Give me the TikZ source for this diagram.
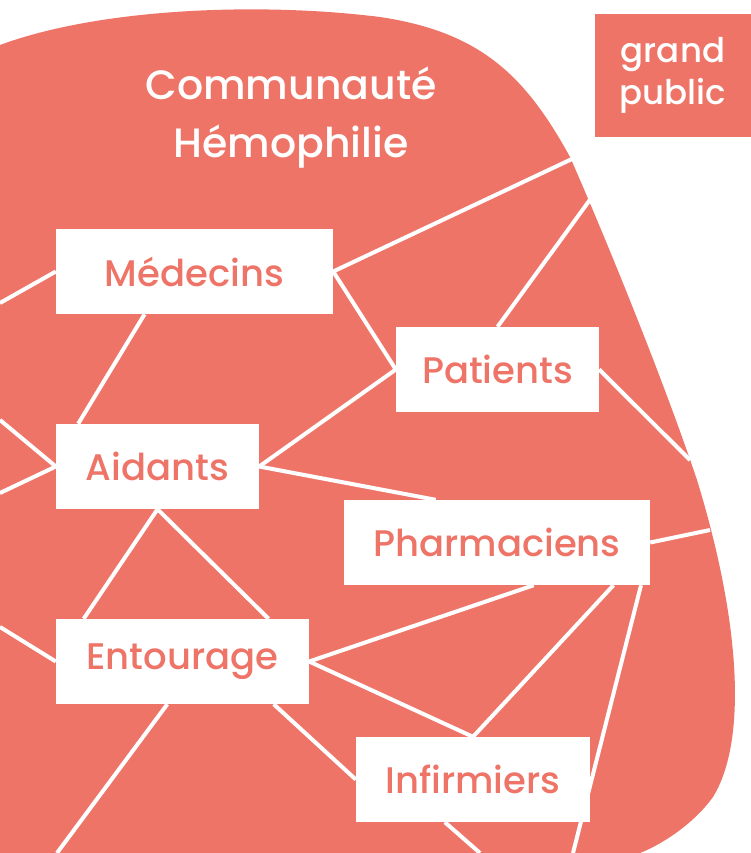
\documentclass[tikz,border=0pt]{standalone}
\usepackage{fontspec}
\setmainfont{Poppins}[UprightFont=* Medium]
\usetikzlibrary{calc}
\definecolor{corail}{RGB}{238,116,104}
\tikzstyle{every node}=[font=\fontsize{37}{40}\selectfont]
\tikzstyle{box}=[fill=white,text=corail,inner sep=0pt,minimum height=85pt]
\tikzstyle{link}=[white,line width=4pt]
\pgfdeclarelayer{blob}
\pgfdeclarelayer{edges}
\pgfsetlayers{blob,edges,main}

\begin{document}
\begin{tikzpicture}[x=1pt,y=-1pt]
\useasboundingbox (0,0) rectangle (751,853);

\begin{pgfonlayer}{blob}
\fill[corail] (0,45) .. controls (100,8) and (260,2) .. (380,17) .. controls (480,32) and (525,75) .. (570,157) .. controls (600,225) and (660,370) .. (697,480) .. controls (740,620) and (748,740) .. (713,797) .. controls (695,822) and (665,843) .. (640,853) -- (0,853) -- cycle;
\end{pgfonlayer}

\node[text=white,align=center,font=\fontsize{41}{58}\selectfont] (titre) at (291,118) {Communauté\\Hémophilie};
\node[fill=corail,text=white,inner sep=0pt,minimum width=156pt,minimum height=123pt,align=center,font=\fontsize{34}{42}\selectfont] (public) at (673,75.5) {grand\\public};

\node[box,minimum width=277pt] (medecins) at (194.5,271.5) {Médecins};
\node[box,minimum width=203pt] (patients) at (497.5,369.5) {Patients};
\node[box,minimum width=203pt] (aidants) at (157.5,466.5) {Aidants};
\node[box,minimum width=306pt] (pharmaciens) at (497,542.5) {Pharmaciens};
\node[box,minimum width=253pt] (entourage) at (182.5,661.5) {Entourage};
\node[box,minimum width=234pt] (infirmiers) at (473,779.5) {Infirmiers};

% bouts libres
\coordinate (g1) at (0,303);
\coordinate (g2) at (0,420);
\coordinate (g3) at (0,493);
\coordinate (g4) at (0,627);
\coordinate (c1) at (690,460);
\coordinate (c2) at (710,530);
\coordinate (b1) at (573,853);
\coordinate (b2) at (480,853);
\coordinate (b3) at (57,853);

\begin{pgfonlayer}{edges}
\draw[link] (g1) -- (medecins.west);
\draw[link] (medecins.east) -- ($(public.south west)!0.15!(public.south east)$);
\draw[link] (medecins.east) -- (patients.west);
\draw[link] ($(medecins.south west)!0.32!(medecins.south east)$) -- ($(aidants.north west)!0.11!(aidants.north east)$);
\draw[link] (patients.north) -- ($(public.south west)!0.26!(public.south east)$);
\draw[link] (patients.east) -- (c1);
\draw[link] (aidants.east) -- (patients.west);
\draw[link] (aidants.east) -- ($(pharmaciens.north west)!0.3!(pharmaciens.north east)$);
\draw[link] (g2) -- (aidants.west);
\draw[link] (g3) -- (aidants.west);
\draw[link] (aidants.south) -- ($(entourage.north west)!0.11!(entourage.north east)$);
\draw[link] (aidants.south) -- ($(entourage.north west)!0.84!(entourage.north east)$);
\draw[link] (g4) -- (entourage.west);
\draw[link] (entourage.east) -- ($(pharmaciens.south west)!0.62!(pharmaciens.south east)$);
\draw[link] (entourage.east) -- (infirmiers.north);
\draw[link] (infirmiers.north) -- ($(pharmaciens.south west)!0.88!(pharmaciens.south east)$);
\draw[link] ($(pharmaciens.south west)!0.97!(pharmaciens.south east)$) -- (b1);
\draw[link] (pharmaciens.east) -- (c2);
\draw[link] ($(infirmiers.south west)!0.38!(infirmiers.south east)$) -- (b2);
\draw[link] ($(entourage.south west)!0.44!(entourage.south east)$) -- (b3);
\draw[link] ($(entourage.south west)!0.86!(entourage.south east)$) -- (infirmiers.west);
\end{pgfonlayer}
\end{tikzpicture}
\end{document}
